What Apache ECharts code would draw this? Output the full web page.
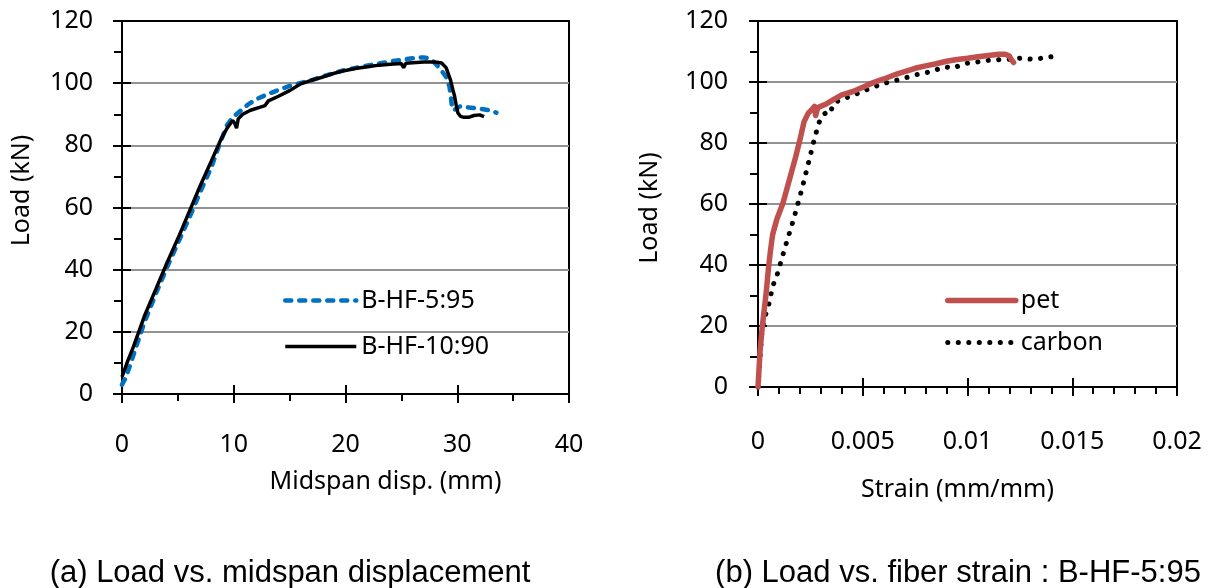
<!DOCTYPE html>
<html>
<head>
<meta charset="utf-8">
<script src="https://cdn.jsdelivr.net/npm/echarts@6/dist/echarts.min.js"></script>
<style>
  html, body { margin: 0; padding: 0; background: #fff; }
  #chart { width: 1211px; height: 588px; }
</style>
</head>
<body>
<div id="chart"></div>
<script>
// (a) load vs midspan displacement
const dispB595 = [0, 0.3, 0.7, 1.2, 2.0, 3.0, 4.0, 5.0, 6.0, 7.0, 8.0, 8.8, 9.4, 9.9, 10.5, 11.3, 12.0, 13.0, 14.0, 15.0, 16.0, 17.0, 18.0, 19.0, 20.0, 21.0, 22.0, 23.0, 24.0, 25.0, 26.0, 27.0, 27.6, 28.0, 28.5, 29.0, 29.3, 29.45, 29.55, 29.8, 30.2, 31.0, 32.0, 33.0, 33.5]
const loadB595 = [3, 5, 9, 14.5, 23, 32, 40.5, 48.5, 56.5, 65, 73, 81, 86.5, 89, 90.8, 93.2, 94.8, 96.4, 97.8, 99.1, 100.1, 101, 102.2, 103.3, 104.3, 105, 105.7, 106.3, 107, 107.5, 108, 108.3, 107.8, 106.5, 104.5, 102, 99, 95, 91.5, 91.5, 92.5, 92.2, 91.8, 91.2, 90.5]

const dispB1090 = [0, 0.5, 1.0, 2.0, 3.0, 4.0, 5.0, 6.0, 7.0, 8.0, 8.8, 9.4, 9.9, 10.1, 10.25, 10.4, 10.8, 11.5, 12.3, 12.8, 13.1, 14.0, 15.0, 16.0, 17.0, 18.0, 19.0, 20.0, 21.0, 22.0, 23.0, 24.0, 25.0, 25.2, 25.4, 26.0, 27.0, 28.0, 28.6, 29.0, 29.4, 29.6, 29.75, 29.9, 30.05, 30.3, 30.6, 31.0, 31.5, 32.0, 32.4]
const loadB1090 = [5.5, 10.5, 15, 25, 33.5, 42, 50, 58.5, 67, 75, 81.5, 85.5, 88, 87, 85.5, 88.5, 90, 91.3, 92.2, 92.8, 94.3, 95.8, 97.6, 99.8, 101, 102, 103.2, 104.1, 104.8, 105.3, 105.8, 106.1, 106.3, 105, 106.4, 106.6, 106.8, 106.8, 106.5, 105, 101, 98, 96, 93, 90.5, 89.3, 89, 89, 89.6, 89.8, 89.2]

// (b) load vs fiber strain
const strainPet = [0, 0.00005, 0.0001, 0.0002, 0.0003, 0.0004, 0.0005, 0.0006, 0.0007, 0.0009, 0.0012, 0.0014, 0.0016, 0.0018, 0.002, 0.0022, 0.0024, 0.0026, 0.0027, 0.00275, 0.00285, 0.0032, 0.0036, 0.004, 0.0045, 0.005, 0.0055, 0.006, 0.0065, 0.007, 0.0075, 0.008, 0.0085, 0.009, 0.0095, 0.01, 0.0105, 0.011, 0.0115, 0.0118, 0.012, 0.0121, 0.0122]
const loadPet = [0, 6, 12, 19.5, 25.5, 31.5, 39, 45, 50, 55, 60.5, 65.5, 70.5, 75.5, 81, 87, 89.8, 91.2, 92, 89, 91.6, 92.6, 94.2, 95.8, 96.8, 98.3, 99.8, 101, 102.3, 103.4, 104.5, 105.3, 106, 106.8, 107.4, 107.8, 108.3, 108.7, 109.1, 109.1, 108.5, 107.2, 106.4]

const strainCarbon = [0, 0.00005, 0.0001, 0.0002, 0.00033, 0.0005, 0.0007, 0.0009, 0.00105, 0.0013, 0.0015, 0.0017, 0.0019, 0.0021, 0.0023, 0.0025, 0.0027, 0.0029, 0.0031, 0.0033, 0.00345, 0.0036, 0.004, 0.0045, 0.005, 0.0055, 0.006, 0.0065, 0.007, 0.0075, 0.008, 0.0085, 0.0089, 0.0093, 0.0097, 0.01, 0.0105, 0.011, 0.0115, 0.012, 0.0125, 0.013, 0.0134, 0.0138, 0.0142]
const loadCarbon = [0, 5, 10, 19, 23, 26.5, 33, 36.5, 40, 46, 50.5, 55, 60, 65, 70.5, 76, 81.5, 86.5, 89.2, 90.2, 89.8, 93, 94.4, 95.5, 97, 98.3, 99.5, 100.4, 101.3, 102.3, 103, 104, 105, 104.5, 105.6, 106.2, 106.6, 107.1, 107.3, 107.4, 107.8, 107.5, 107.6, 108.2, 108.3]

const pairs = (xs, ys) => xs.map((x, i) => [x, ys[i]])

const FONT = '"Noto Sans", "Open Sans", sans-serif'
const black = '#000'

const chart = echarts.init(document.getElementById('chart'))

const mainX = (gridIndex, max, interval, minorSplit, margin, name, nameGap, namePad, fmt) => ({
  gridIndex, type: 'value', min: 0, max, interval, position: 'bottom',
  axisLine: { onZero: false, lineStyle: { color: black, width: 2 } },
  axisTick: { length: 9, lineStyle: { color: black, width: 2 } },
  minorTick: { show: true, splitNumber: minorSplit, length: 7, lineStyle: { color: black, width: 2 } },
  splitLine: { show: false },
  axisLabel: { margin, fontSize: 25, color: black, fontFamily: FONT, formatter: fmt },
  name, nameLocation: 'middle', nameGap,
  nameTextStyle: { fontSize: 25, color: black, fontFamily: FONT, padding: namePad }
})
const overlayX = (gridIndex, max, interval) => ({
  gridIndex, type: 'value', min: 0, max, interval, position: 'bottom',
  axisLine: { show: false, onZero: false },
  axisTick: { inside: true, length: 9, lineStyle: { color: black, width: 2 } },
  axisLabel: { show: false }, splitLine: { show: false }
})
const mainY = (gridIndex, margin, nameGap, namePad) => ({
  gridIndex, type: 'value', min: 0, max: 120, interval: 20, position: 'left',
  axisLine: { show: true, onZero: false, lineStyle: { color: black, width: 2 } },
  axisTick: { show: true, length: 9, lineStyle: { color: black, width: 2 } },
  minorTick: { show: true, splitNumber: 2, length: 8, lineStyle: { color: black, width: 2 } },
  splitLine: { show: true, showMinLine: false, showMaxLine: false, lineStyle: { color: '#929292', width: 2 } },
  axisLabel: { margin, fontSize: 25, color: black, fontFamily: FONT },
  name: 'Load (kN)', nameLocation: 'middle', nameGap, nameRotate: 90,
  nameTextStyle: { fontSize: 25, color: black, fontFamily: FONT, padding: namePad }
})
const overlayY = (gridIndex) => ({
  gridIndex, type: 'value', min: 0, max: 120, interval: 20, position: 'left',
  axisLine: { show: false, onZero: false },
  axisTick: { show: true, inside: true, length: 9, lineStyle: { color: black, width: 2 } },
  axisLabel: { show: false }, splitLine: { show: false }
})

const legendBase = {
  orient: 'vertical', itemHeight: 14,
  itemStyle: { opacity: 0 },
  lineStyle: { width: 'inherit', type: 'inherit', cap: 'inherit' },
  textStyle: { fontSize: 25, color: black, fontFamily: FONT }
}

chart.setOption({
  animation: false,
  backgroundColor: '#fff',
  grid: [
    { left: 122, top: 21, width: 447, height: 373, show: true, borderColor: black, borderWidth: 2 },
    { left: 758, top: 21, width: 419, height: 366, show: true, borderColor: black, borderWidth: 2 }
  ],
  xAxis: [
    mainX(0, 40, 10, 2, 38, 'Midspan disp. (mm)', 75, [0, 0, 0, 80]),
    overlayX(0, 40, 10),
    mainX(1, 0.02, 0.005, 5, 42, 'Strain (mm/mm)', 90, [0, 20, 0, 0], (v) => String(parseFloat(v.toFixed(3)))),
    overlayX(1, 0.02, 0.005)
  ],
  yAxis: [
    mainY(0, 29, 88, [0, 0, 0, 34]),
    overlayY(0),
    mainY(1, 30, 96, [0, 8, 0, 0]),
    overlayY(1)
  ],
  legend: [
    Object.assign({}, legendBase, {
      data: ['B-HF-5:95', 'B-HF-10:90'], left: 278, top: 283, itemWidth: 71, itemGap: 21
    }),
    Object.assign({}, legendBase, {
      data: ['pet', 'carbon'], left: 940, top: 283, itemWidth: 68, itemGap: 17
    })
  ],
  series: [
    {
      name: 'B-HF-5:95', type: 'line', xAxisIndex: 0, yAxisIndex: 0, data: pairs(dispB595, loadB595),
      symbol: 'none', z: 2, color: '#0070C0',
      lineStyle: { color: '#0070C0', width: 4.5, type: [6, 8], cap: 'round' }
    },
    {
      name: 'B-HF-10:90', type: 'line', xAxisIndex: 0, yAxisIndex: 0, data: pairs(dispB1090, loadB1090),
      symbol: 'none', z: 3, color: black,
      lineStyle: { color: black, width: 3.5 }
    },
    {
      name: 'carbon', type: 'line', xAxisIndex: 2, yAxisIndex: 2, data: pairs(strainCarbon, loadCarbon),
      symbol: 'none', z: 2, color: black,
      lineStyle: { color: black, width: 5, type: [0.1, 10.4], cap: 'round' }
    },
    {
      name: 'pet', type: 'line', xAxisIndex: 2, yAxisIndex: 2, data: pairs(strainPet, loadPet),
      symbol: 'none', z: 3, color: '#C0504D',
      lineStyle: { color: '#C0504D', width: 5.5, cap: 'round', join: 'round' }
    }
  ],
  graphic: [
    {
      type: 'text', x: 290, y: 573,
      style: { text: '(a) Load vs. midspan displacement', font: '31px "Liberation Sans", Arial, sans-serif', fill: black, textAlign: 'center', textVerticalAlign: 'middle' }
    },
    {
      type: 'text', x: 958, y: 573,
      style: { text: '(b) Load vs. fiber strain : B-HF-5:95', font: '31px "Liberation Sans", Arial, sans-serif', fill: black, textAlign: 'center', textVerticalAlign: 'middle' }
    }
  ]
})
</script>
</body>
</html>
